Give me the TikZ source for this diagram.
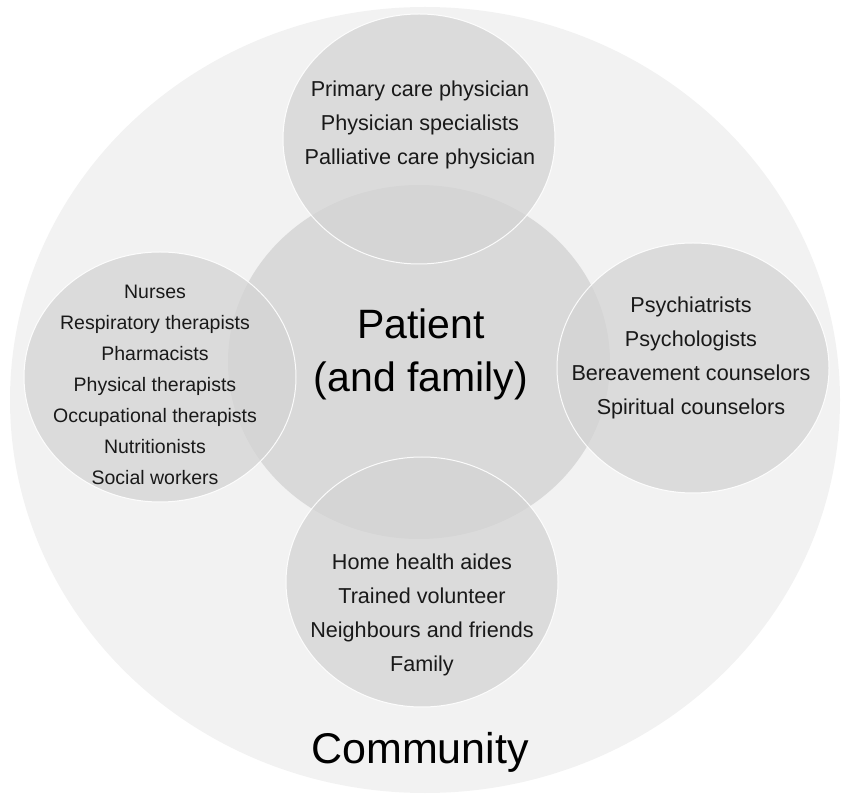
\documentclass[tikz,border=0pt]{standalone}
\usepackage{fontspec}
\setmainfont{Liberation Sans}
\usetikzlibrary{shapes.geometric,positioning}

\begin{document}
\begin{tikzpicture}[x=0.5pt,y=-0.5pt,
    community/.style={ellipse, inner sep=0pt, fill=black!5, minimum width=415pt, minimum height=393pt},
    core/.style={ellipse, inner sep=0pt, fill=black!15, minimum width=191pt, minimum height=177pt},
    member/.style={ellipse, inner sep=0pt, minimum width=136pt, minimum height=125pt,
      fill=black!17, fill opacity=0.75, draw=white, draw opacity=0.9, line width=0.5pt},
    roles/.style={align=center, text=black!90, font=\fontsize{10.8}{17}\selectfont},
    title/.style={align=center, font=\fontsize{20.5}{26.5}\selectfont}]
      % Every size is given in pixels of the reference
      \useasboundingbox (0,0) rectangle (841,796);

      % The circles, from the back to the front
      \node[community] (comm) at (425,400) {};
      \node[core] (pat) at (419,362) {};
      \node[member] (phys) at (419,139) {};
      \node[member] (care) at (160,377) {};
      \node[member] (mind) at (693,368) {};
      \node[member] (home) at (422,582) {};

      % Texts
      \node[title] (patlabel) at (421,354) {Patient\\(and family)};
      \node[title, font=\fontsize{21.5}{26}\selectfont] (commlabel) at (420,752) {Community};
      \node[roles] (physlabel) at (420,125) {Primary care physician\\Physician specialists\\Palliative care physician};
      \node[roles, font=\fontsize{9.75}{15.5}\selectfont] (carelabel) at (155,385)
        {Nurses\\Respiratory therapists\\Pharmacists\\Physical therapists\\Occupational therapists\\Nutritionists\\Social workers};
      \node[roles] (mindlabel) at (691,358) {Psychiatrists\\Psychologists\\Bereavement counselors\\Spiritual counselors};
      \node[roles] (homelabel) at (422,615) {Home health aides\\Trained volunteer\\Neighbours and friends\\Family};
\end{tikzpicture}
\end{document}
